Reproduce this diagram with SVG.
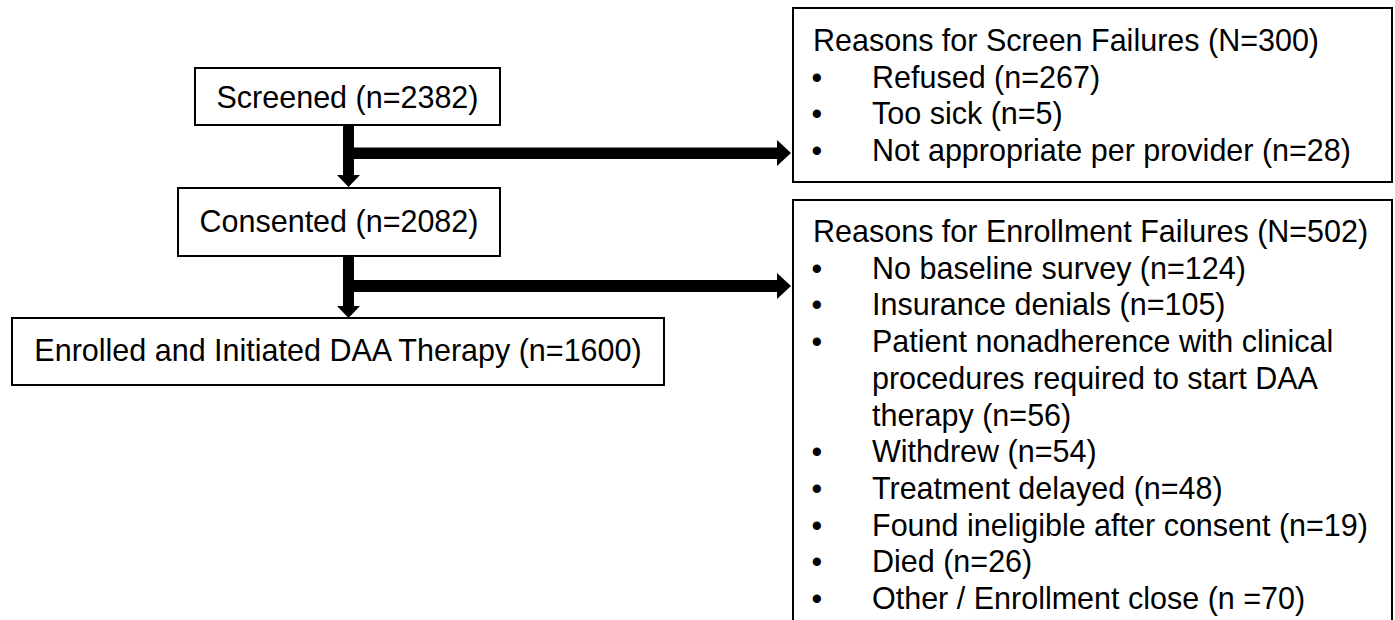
<svg xmlns="http://www.w3.org/2000/svg" width="1395" height="620" viewBox="0 0 1395 620">
<style>
.box{fill:#fff;stroke:#000;stroke-width:2}
.t{font-family:"Liberation Sans",Arial,sans-serif;font-size:30.5px;fill:#000}
.c{text-anchor:middle}
.arrow{fill:#000;stroke:none}
</style>
<rect width="1395" height="620" fill="#fff"/>
<g id="connectors">
<path class="arrow" d="M343,125 H354 V175 H360 L348.5,187 L337,175 H343 Z"/>
<path class="arrow" d="M354,147.5 H777 V140 L791,153 L777,166 V159 H354 Z"/>
<path class="arrow" d="M343,256 H354 V306 H360 L348.5,318 L337,306 H343 Z"/>
<path class="arrow" d="M354,280 H777 V273 L791,286 L777,299 V292 H354 Z"/>
</g>
<g id="screened">
<rect class="box" x="195" y="68" width="305" height="57"/>
<text class="t c" x="347.5" y="108">Screened (n=2382)</text>
</g>
<g id="consented">
<rect class="box" x="178" y="188" width="322" height="68"/>
<text class="t c" x="339" y="232">Consented (n=2082)</text>
</g>
<g id="enrolled">
<rect class="box" x="12" y="318" width="652" height="67"/>
<text class="t c" x="338" y="361">Enrolled and Initiated DAA Therapy (n=1600)</text>
</g>
<g id="screen-failures">
<rect class="box" x="793" y="8" width="599" height="174"/>
<text class="t" x="813" y="51">Reasons for Screen Failures (N=300)</text>
<text class="t" x="811.5" y="87.7">•</text><text class="t" x="872" y="87.7">Refused (n=267)</text>
<text class="t" x="811.5" y="124.4">•</text><text class="t" x="872" y="124.4">Too sick (n=5)</text>
<text class="t" x="811.5" y="161.1">•</text><text class="t" x="872" y="161.1">Not appropriate per provider (n=28)</text>
</g>
<g id="enrollment-failures">
<rect class="box" x="793" y="200" width="599" height="430"/>
<text class="t" x="813" y="242">Reasons for Enrollment Failures (N=502)</text>
<text class="t" x="811.5" y="278.7">•</text><text class="t" x="872" y="278.7">No baseline survey (n=124)</text>
<text class="t" x="811.5" y="315.4">•</text><text class="t" x="872" y="315.4">Insurance denials (n=105)</text>
<text class="t" x="811.5" y="352.1">•</text><text class="t" x="872" y="352.1">Patient nonadherence with clinical</text>
<text class="t" x="872" y="388.8">procedures required to start DAA</text>
<text class="t" x="872" y="425.5">therapy (n=56)</text>
<text class="t" x="811.5" y="462.2">•</text><text class="t" x="872" y="462.2">Withdrew (n=54)</text>
<text class="t" x="811.5" y="498.9">•</text><text class="t" x="872" y="498.9">Treatment delayed (n=48)</text>
<text class="t" x="811.5" y="535.6">•</text><text class="t" x="872" y="535.6">Found ineligible after consent (n=19)</text>
<text class="t" x="811.5" y="572.3">•</text><text class="t" x="872" y="572.3">Died (n=26)</text>
<text class="t" x="811.5" y="609">•</text><text class="t" x="872" y="609">Other / Enrollment close (n =70)</text>
</g>
</svg>
